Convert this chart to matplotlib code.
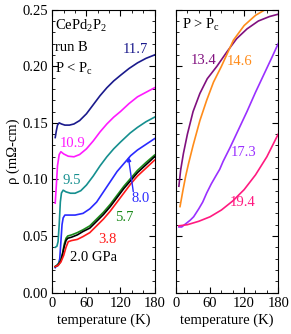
import matplotlib
matplotlib.use("Agg")
import matplotlib.pyplot as plt
from matplotlib.ticker import MultipleLocator

plt.rcParams['font.family'] = ['Liberation Serif', 'DejaVu Serif']
plt.rcParams['mathtext.fontset'] = 'custom'
plt.rcParams['mathtext.rm'] = 'Liberation Serif'
plt.rcParams['mathtext.it'] = 'Liberation Serif'

#=== DATA ===#

# left panel: P < Pc
t_117 = [5, 7, 9, 12, 16, 22, 30, 38, 48, 60, 72, 84, 96, 108, 120, 135, 150, 165, 180]
r_117 = [0.137, 0.143, 0.148, 0.150, 0.149, 0.148, 0.148, 0.149, 0.152, 0.158, 0.166,
         0.174, 0.181, 0.187, 0.192, 0.198, 0.203, 0.207, 0.210]

t_109 = [5, 7, 9, 12, 15, 20, 28, 38, 48, 60, 72, 84, 96, 108, 120, 135, 150, 165, 180]
r_109 = [0.079, 0.095, 0.112, 0.122, 0.1245, 0.1225, 0.1205, 0.120, 0.122, 0.127, 0.134,
         0.142, 0.149, 0.155, 0.160, 0.167, 0.173, 0.177, 0.181]

t_95 = [5, 8, 10, 12, 14, 16, 19, 24, 32, 40, 50, 60, 72, 84, 96, 108, 120, 137, 150, 165, 180]
r_95 = [0.040, 0.041, 0.045, 0.060, 0.080, 0.088, 0.0905, 0.089, 0.0878, 0.0878, 0.090, 0.095,
        0.103, 0.112, 0.120, 0.127, 0.133, 0.141, 0.146, 0.151, 0.155]

t_80 = [5, 8, 11, 13, 15, 17, 19, 22, 30, 40, 54, 66, 78, 90, 102, 114, 126, 138, 150, 165, 180]
r_80 = [0.022, 0.024, 0.026, 0.030, 0.045, 0.060, 0.066, 0.0685, 0.0685, 0.0685, 0.070, 0.074,
        0.080, 0.089, 0.098, 0.107, 0.114, 0.121, 0.126, 0.131, 0.136]

t_57 = [5, 10, 15, 18, 21, 24, 27, 34, 44, 54, 66, 78, 90, 102, 114, 126, 138, 150, 165, 180]
r_57 = [0.023, 0.025, 0.029, 0.035, 0.043, 0.048, 0.050, 0.051, 0.053, 0.0555, 0.059, 0.065,
        0.071, 0.078, 0.086, 0.094, 0.101, 0.108, 0.115, 0.1215]
r_20 = [0.023, 0.024, 0.028, 0.034, 0.041, 0.046, 0.048, 0.049, 0.051, 0.054, 0.057, 0.063,
        0.069, 0.076, 0.084, 0.092, 0.099, 0.106, 0.113, 0.120]

t_38 = [5, 10, 15, 20, 24, 28, 34, 44, 54, 66, 78, 90, 102, 114, 126, 138, 150, 165, 180]
r_38 = [0.023, 0.024, 0.027, 0.033, 0.040, 0.045, 0.046, 0.047, 0.0495, 0.053, 0.059, 0.065,
        0.072, 0.080, 0.088, 0.096, 0.103, 0.110, 0.117]

# right panel: P > Pc
t_134 = [5, 8, 13, 20, 30, 42, 55, 72, 90, 107, 125, 145, 165, 180]
r_134 = [0.094, 0.108, 0.123, 0.140, 0.160, 0.176, 0.189, 0.200, 0.213, 0.2245, 0.233,
         0.240, 0.244, 0.246]

t_146 = [7, 12, 17, 22, 30, 42, 54, 66, 80, 101, 120, 140, 157, 165]
r_146 = [0.076, 0.090, 0.103, 0.114, 0.130, 0.152, 0.170, 0.186, 0.200, 0.223, 0.236,
         0.245, 0.250, 0.253]

t_173 = [5, 10, 15, 20, 25, 31, 40, 47, 54, 62, 70, 77, 83, 95, 110, 125, 140, 155, 170, 180]
r_173 = [0.058, 0.058, 0.060, 0.062, 0.064, 0.067, 0.074, 0.080, 0.088, 0.096, 0.103, 0.109,
         0.116, 0.128, 0.144, 0.160, 0.177, 0.193, 0.209, 0.220]

t_194 = [5, 20, 40, 60, 80, 100, 120, 140, 160, 180]
r_194 = [0.059, 0.060, 0.063, 0.067, 0.073, 0.081, 0.091, 0.104, 0.120, 0.140]

#=== PLOT ===#

fig = plt.figure(figsize=(2.91, 3.34), dpi=100)
ax1 = fig.add_axes([0.180, 0.124, 0.351, 0.847])
ax2 = fig.add_axes([0.605, 0.124, 0.351, 0.847])

lw = 1.2
ax1.plot(t_117, r_117, color='#1a1a8c', lw=lw)
ax1.plot(t_109, r_109, color='#ff1aff', lw=lw)
ax1.plot(t_95, r_95, color='#158f8f', lw=lw)
ax1.plot(t_80, r_80, color='#2a2aff', lw=lw)
ax1.plot(t_57, r_57, color='#1a8a1a', lw=lw)
ax1.plot(t_57, r_20, color='black', lw=lw)
ax1.plot(t_38, r_38, color='#ff1a1a', lw=lw)

ax2.plot(t_134, r_134, color='#80107f', lw=lw)
ax2.plot(t_146, r_146, color='#ff8c1a', lw=lw)
ax2.plot(t_173, r_173, color='#9a30ff', lw=lw)
ax2.plot(t_194, r_194, color='#ff1a80', lw=lw)

fs = 10.5
for ax in (ax1, ax2):
    ax.set_xlim(0, 180)
    ax.set_ylim(0, 0.25)
    ax.xaxis.set_major_locator(MultipleLocator(60))
    ax.xaxis.set_minor_locator(MultipleLocator(20))
    ax.yaxis.set_major_locator(MultipleLocator(0.05))
    ax.yaxis.set_minor_locator(MultipleLocator(0.01))
    ax.tick_params(which='both', direction='in', top=True, right=True, labelsize=fs, pad=3)
    ax.tick_params(which='major', length=4)
    ax.tick_params(which='minor', length=2)
    ax.set_xlabel('temperature (K)', fontsize=fs, labelpad=3)

ax1.yaxis.set_major_formatter(plt.FormatStrFormatter('%.2f'))
ax2.tick_params(labelleft=False)
ax1.set_ylabel('ρ (mΩ-cm)', fontsize=fs, labelpad=2)

# labels, left panel
ax1.text(4.5, 0.236, 'CePd$_2$P$_2$', fontsize=fs, va='center', ha='left')
ax1.text(4.5, 0.2162, 'run B', fontsize=fs, va='center', ha='left')
ax1.text(4.5, 0.1975, 'P < P$_\\mathrm{c}$', fontsize=fs, va='center', ha='left')
ax1.text(146.5, 0.2144, '11.7', color='#1a1a8c', fontsize=fs, ha='center', va='center')
ax1.text(35, 0.1318, '10.9', color='#ff1aff', fontsize=fs, ha='center', va='center')
ax1.text(35, 0.0987, '9.5', color='#158f8f', fontsize=fs, ha='center', va='center')
ax1.text(155, 0.0830, '8.0', color='#2a2aff', fontsize=fs, ha='center', va='center')
ax1.annotate('', xy=(133.8, 0.120), xytext=(142.6, 0.0892),
             arrowprops=dict(arrowstyle='-|>', color='#2a2aff', lw=1.0,
                             mutation_scale=6, shrinkA=0, shrinkB=0))
ax1.text(126, 0.066, '5.7', color='#1a8a1a', fontsize=fs, ha='center', va='center')
ax1.text(97, 0.0466, '3.8', color='#ff1a1a', fontsize=fs, ha='center', va='center')
ax1.text(73, 0.0306, '2.0 GPa', color='black', fontsize=fs, ha='center', va='center')

# labels, right panel
ax2.text(10.5, 0.2365, 'P > P$_\\mathrm{c}$', fontsize=fs, va='center', ha='left')
ax2.text(48.5, 0.2055, '13.4', color='#80107f', fontsize=fs, ha='center', va='center')
ax2.text(112, 0.2038, '14.6', color='#ff8c1a', fontsize=fs, ha='center', va='center')
ax2.text(119, 0.1234, '17.3', color='#9a30ff', fontsize=fs, ha='center', va='center')
ax2.text(117, 0.0792, '19.4', color='#ff1a80', fontsize=fs, ha='center', va='center')

fig.savefig('out.png', dpi=100)
